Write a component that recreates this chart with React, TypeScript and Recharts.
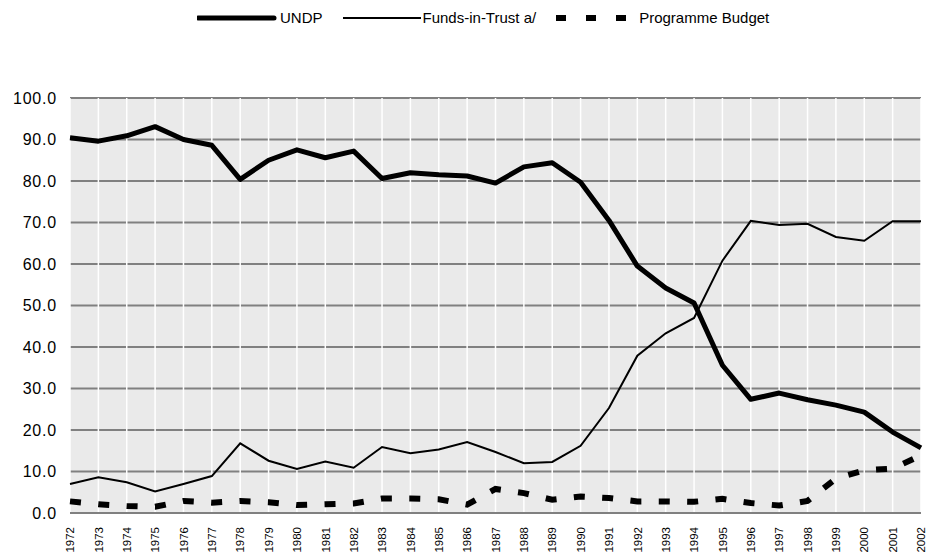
import { LineChart, Line, XAxis, YAxis, CartesianGrid, Legend } from "recharts";

const years = [
  "1972", "1973", "1974", "1975", "1976", "1977", "1978", "1979", "1980", "1981",
  "1982", "1983", "1984", "1985", "1986", "1987", "1988", "1989", "1990", "1991",
  "1992", "1993", "1994", "1995", "1996", "1997", "1998", "1999", "2000", "2001", "2002",
];

const undp = [
  90.4, 89.6, 90.9, 93.1, 90.0, 88.6, 80.4, 85.0, 87.5, 85.6,
  87.2, 80.6, 82.0, 81.5, 81.2, 79.5, 83.4, 84.4, 79.7, 70.5,
  59.5, 54.2, 50.6, 35.6, 27.4, 28.9, 27.3, 26.0, 24.3, 19.5, 15.7,
];

const fundsInTrust = [
  7.0, 8.6, 7.4, 5.2, 7.0, 8.9, 16.8, 12.6, 10.6, 12.4,
  10.9, 15.9, 14.4, 15.3, 17.1, 14.7, 12.0, 12.3, 16.2, 25.3,
  37.9, 43.3, 47.0, 60.8, 70.4, 69.4, 69.7, 66.5, 65.6, 70.3, 70.3,
];

const programmeBudget = [
  2.8, 2.1, 1.7, 1.5, 2.9, 2.5, 2.9, 2.6, 1.9, 2.1,
  2.3, 3.5, 3.5, 3.3, 2.0, 5.8, 4.8, 3.2, 4.0, 3.6,
  2.8, 2.8, 2.7, 3.4, 2.4, 1.8, 2.9, 8.3, 10.3, 10.7, 13.9,
];

const yTicks = [0, 10, 20, 30, 40, 50, 60, 70, 80, 90, 100];

const data = years.map((year, i) => ({
  year,
  undp: undp[i],
  funds: fundsInTrust[i],
  budget: programmeBudget[i],
}));

const FONT = "'Liberation Sans', Arial, sans-serif";

const YearTick = (props: any) => {
  const { x, y, payload } = props;
  return (
    <g transform={`translate(${x},${y})`}>
      <text
        transform="rotate(-90)"
        x={-6}
        y={4.2}
        textAnchor="end"
        fontSize={11.5}
        fontFamily={FONT}
        fill="#000"
      >
        {payload.value}
      </text>
    </g>
  );
};

const ValueTick = (props: any) => {
  const { x, y, payload } = props;
  return (
    <text
      x={x}
      y={y}
      dy={5.5}
      textAnchor="end"
      fontSize={16}
      fontFamily={FONT}
      letterSpacing={0.8}
      fill="#000"
    >
      {payload.value.toFixed(1)}
    </text>
  );
};

const LegendContent = () => {
  const item = (icon: any, label: string, gap: number) => (
    <div style={{ display: "flex", alignItems: "center", marginRight: 20 }}>
      <svg width={80} height={12} style={{ marginRight: gap }}>
        {icon}
      </svg>
      <span>{label}</span>
    </div>
  );
  return (
    <div
      style={{
        display: "flex",
        alignItems: "center",
        fontFamily: FONT,
        fontSize: 15,
        color: "#000",
        lineHeight: "20px",
      }}
    >
      {item(<line x1={1} y1={6} x2={77} y2={6} stroke="#000" strokeWidth={5} strokeLinecap="round" />, "UNDP", 3)}
      {item(<line x1={0} y1={6} x2={78} y2={6} stroke="#000" strokeWidth={2} />, "Funds-in-Trust a/", 0)}
      {item(
        <line x1={0} y1={6} x2={72} y2={6} stroke="#000" strokeWidth={6} strokeDasharray="10 20" />,
        "Programme Budget",
        3
      )}
    </div>
  );
};

export default function App() {
  return (
    <div style={{ position: "absolute", left: 0, top: 0, background: "#fff" }}>
      <LineChart
        width={926}
        height={553}
        data={data}
        margin={{ top: 78, right: 5, bottom: 2, left: 0 }}
      >
        <CartesianGrid vertical={false} stroke="#808080" strokeWidth={2} fill="#eaeaea" />
        <CartesianGrid horizontal={false} stroke="#ffffff" strokeWidth={1.5} />
        <XAxis
          dataKey="year"
          interval={0}
          tick={<YearTick />}
          tickLine={false}
          axisLine={{ stroke: "#808080", strokeWidth: 2 }}
          height={38}
        />
        <YAxis
          domain={[0, 100]}
          ticks={yTicks}
          interval={0}
          tick={<ValueTick />}
          tickLine={false}
          axisLine={false}
          width={70}
          tickMargin={7}
        />
        <Legend
          verticalAlign="top"
          content={<LegendContent />}
          wrapperStyle={{ top: 8, left: 197, width: "auto" }}
        />
        <Line
          dataKey="funds"
          name="Funds-in-Trust a/"
          stroke="#000"
          strokeWidth={2}
          dot={false}
          activeDot={false}
          isAnimationActive={false}
        />
        <Line
          dataKey="budget"
          name="Programme Budget"
          stroke="#000"
          strokeWidth={6}
          strokeDasharray="11 17.4"
          dot={false}
          activeDot={false}
          isAnimationActive={false}
        />
        <Line
          dataKey="undp"
          name="UNDP"
          stroke="#000"
          strokeWidth={5}
          strokeLinejoin="round"
          dot={false}
          activeDot={false}
          isAnimationActive={false}
        />
      </LineChart>
    </div>
  );
}
